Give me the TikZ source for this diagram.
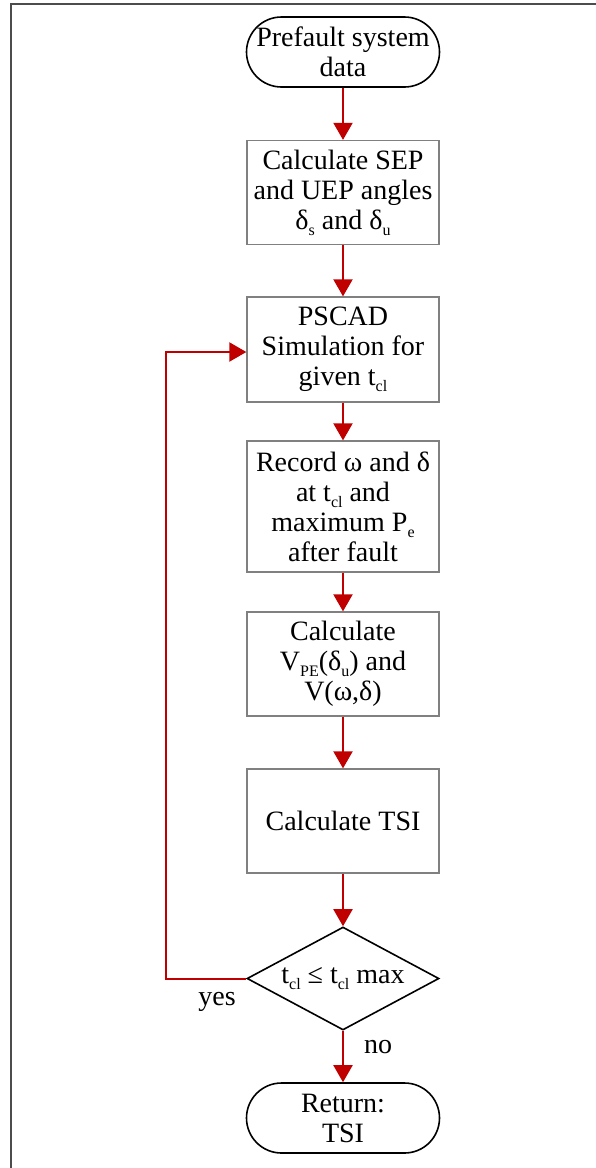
\documentclass[tikz,border=0pt]{standalone}
\usepackage{fontspec}
\setmainfont{Liberation Serif}
\usetikzlibrary{shapes.geometric,arrows.meta}
\newcommand{\mysub}[1]{\raisebox{-0.22em}{\fontsize{16}{16}\selectfont #1}}
\begin{document}
\begin{tikzpicture}[x=1pt,y=-1pt,
  every node/.style={font=\fontsize{28}{30}\selectfont, align=center},
  procbox/.style={draw=black!50, line width=1.3pt, minimum width=192pt, inner sep=0pt},
  term/.style={draw=black, line width=1.6pt, minimum width=193pt, minimum height=70pt, rounded corners=35pt, inner sep=0pt},
  decis/.style={draw=black, line width=1.6pt, shape=diamond, aspect=1.86, minimum width=192pt, minimum height=103pt, inner sep=0pt},
  flow/.style={draw={rgb,255:red,192;green,0;blue,0}, line width=2pt, line join=miter, -{Triangle[length=17pt,width=19pt]}},
  lbl/.style={font=\fontsize{28}{30}\selectfont}
]
\useasboundingbox (0,0) rectangle (596,1168);
\fill[white] (0,0) rectangle (596,1168);
\draw[black!70, line width=2pt] (11,1168) -- (11,4) -- (596,4);

\node[term] (start) at (343,52) {Prefault system\\data};
\node[procbox, minimum height=104pt] (b1) at (343,192.5) {Calculate SEP\\and UEP angles\\δ\mysub{s} and δ\mysub{u}};
\node[procbox, minimum height=105pt] (b2) at (343,349.5) {PSCAD\\Simulation for\\given t\mysub{cl}};
\node[procbox, minimum height=131pt] (b3) at (343,506.5) {Record ω and δ\\at t\mysub{cl} and\\maximum P\mysub{e}\\after fault};
\node[procbox, minimum height=104pt] (b4) at (343,664) {Calculate\\V\mysub{PE}(δ\mysub{u}) and\\V(ω,δ)};
\node[procbox, minimum height=104pt] (b5) at (343,821) {Calculate TSI};
\node[decis] (dec) at (343,978.5) {t\mysub{cl} ≤ t\mysub{cl} max};
\node[term] (ret) at (343,1118) {Return:\\TSI};

\coordinate (lpb) at (166,978.5);
\coordinate (lpt) at (166,352);

\draw[flow] (start) -- (b1);
\draw[flow] (b1) -- (b2);
\draw[flow] (b2) -- (b3);
\draw[flow] (b3) -- (b4);
\draw[flow] (b4) -- (b5);
\draw[flow] (b5) -- (dec);
\draw[flow] (dec) -- (ret);
\draw[flow] (dec.west) -- (lpb) -- (lpt) -- (b2.west |- lpt);

\node[lbl] (yes) at (217,1002) {yes};
\node[lbl] (no) at (378,1047) {no};
\end{tikzpicture}
\end{document}
